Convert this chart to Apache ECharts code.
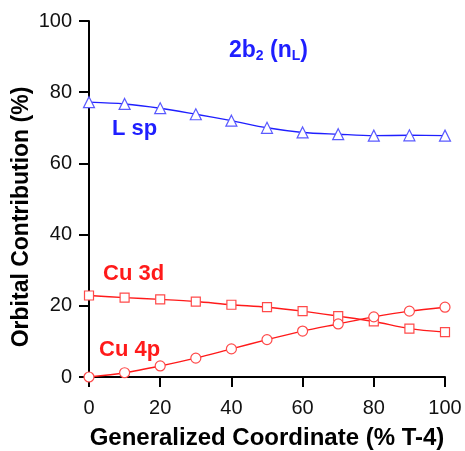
<!DOCTYPE html>
<html>
<head>
<meta charset="utf-8">
<script src="https://cdn.jsdelivr.net/npm/echarts@6/dist/echarts.min.js"></script>
<style>
  html, body { margin: 0; padding: 0; background: #fff; }
  #chart { width: 465px; height: 451px; }
</style>
</head>
<body>
<div id="chart"></div>
<script>
// generalized coordinate (% T-4)
const coord = [0, 10, 20, 30, 40, 50, 60, 70, 80, 90, 100]
// orbital contributions (%)
const lsp = [77.2, 76.7, 75.5, 73.8, 72.0, 70.0, 68.7, 68.2, 67.8, 67.9, 67.8]
const cu3d = [22.9, 22.3, 21.8, 21.2, 20.3, 19.6, 18.5, 17.1, 15.6, 13.6, 12.6]
const cu4p = [0.0, 1.2, 3.1, 5.3, 7.9, 10.5, 12.9, 14.9, 16.9, 18.5, 19.6]

const blue = '#1f1fff'
const red = '#ff1a1a'
const font = 'Liberation Sans, Arial, sans-serif'

const pairs = (ys) => coord.map((x, i) => [x, ys[i]])

const mkSeries = (name, ys, symbol, size, color, border) => ({
  name: name,
  type: 'line',
  data: pairs(ys),
  smooth: 0.3,
  symbol: symbol,
  symbolSize: size,
  showAllSymbol: true,
  lineStyle: { color: color, width: 1.4 },
  itemStyle: { color: '#fff', borderColor: border, borderWidth: 1.2 },
  z: 3
})

const axisCommon = {
  type: 'value',
  min: 0,
  max: 100,
  interval: 20,
  splitLine: { show: false },
  axisLine: { show: true, onZero: false, lineStyle: { color: '#000', width: 2 } },
  axisTick: { show: true, inside: false, length: 10, lineStyle: { color: '#000', width: 2 } },
  axisLabel: { color: '#111', fontSize: 20, fontFamily: font }
}

const chart = echarts.init(document.getElementById('chart'))
chart.setOption({
  animation: false,
  grid: { left: 89, right: 20, top: 21, bottom: 74, containLabel: false, outerBoundsMode: 'none' },
  xAxis: Object.assign({}, axisCommon, {
    name: 'Generalized Coordinate (% T-4)',
    nameLocation: 'middle',
    nameGap: 49,
    nameTextStyle: { color: '#000', fontSize: 24, fontWeight: 'bold', fontFamily: font },
    axisLabel: Object.assign({}, axisCommon.axisLabel, { margin: 21 })
  }),
  yAxis: Object.assign({}, axisCommon, {
    axisLabel: Object.assign({}, axisCommon.axisLabel, { margin: 17 })
  }),
  series: [
    mkSeries('L sp', lsp, 'triangle', 11, blue, '#5a5aff'),
    mkSeries('Cu 3d', cu3d, 'rect', 9, red, '#ff4a4a'),
    mkSeries('Cu 4p', cu4p, 'circle', 10, red, '#ff4a4a')
  ],
  graphic: [
    {
      type: 'text', x: 22, y: 217, rotation: Math.PI / 2,
      style: {
        text: 'Orbital Contribution (%)', fontSize: 23, fontWeight: 'bold', fill: '#000',
        fontFamily: font, align: 'center', verticalAlign: 'middle'
      }
    },
    {
      type: 'text', left: 229, top: 39,
      style: {
        text: '{b|2b}{s|2}{b| (n}{s|L}{b|)}',
        rich: {
          b: { fontSize: 23, fontWeight: 'bold', fill: blue, fontFamily: font },
          s: { fontSize: 14, fontWeight: 'bold', fill: blue, fontFamily: font, padding: [12, 0, 0, 0] }
        }
      }
    },
    { type: 'text', left: 112, top: 118, style: { text: 'L sp', fontSize: 22, fontWeight: 'bold', fill: blue, fontFamily: font } },
    { type: 'text', left: 103, top: 263, style: { text: 'Cu 3d', fontSize: 22, fontWeight: 'bold', fill: red, fontFamily: font } },
    { type: 'text', left: 99, top: 339, style: { text: 'Cu 4p', fontSize: 22, fontWeight: 'bold', fill: red, fontFamily: font } }
  ]
})
</script>
</body>
</html>
